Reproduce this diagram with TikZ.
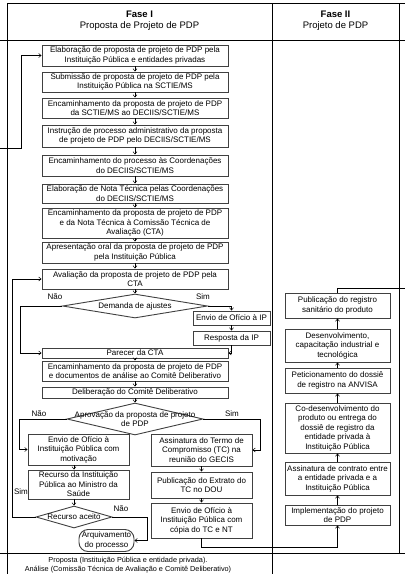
\documentclass[tikz,border=0pt]{standalone}
\usepackage{fontspec}
\setmainfont{Liberation Sans}
\usetikzlibrary{arrows.meta,shapes.geometric}
\begin{document}
\begin{tikzpicture}[x=1pt,y=-1pt,
  box/.style={draw=black!75,line width=0.9pt,fill=white,align=center,inner sep=0pt,font=\fontsize{8}{9.5}\selectfont},
  dia/.style={draw=black!75,line width=0.9pt,diamond,inner sep=0pt},
  lbl/.style={font=\fontsize{8}{9.5}\selectfont,inner sep=0pt,align=center},
  hdr/.style={font=\fontsize{9.5}{10.5}\selectfont,inner sep=0pt,align=center},
  foot/.style={font=\fontsize{7.3}{9}\selectfont,inner sep=0pt,align=center},
  conn/.style={line width=0.5pt,black},
  arr/.style={conn,-{Straight Barb[length=2.5pt,width=4pt]}},
  tab/.style={line width=0.7pt,black}]
\useasboundingbox (0,0) rectangle (405,574);
% table grid
\draw[tab] (7,3) -- (405,3);
\draw[tab] (0,40) -- (405,40);
\draw[tab] (0,553) -- (405,553);
\draw[tab] (7,3) -- (7,574);
\draw[tab] (272,3) -- (272,574);
\draw[tab] (399,3) -- (399,553);
% headers and footer
\node[hdr] (h1) at (139.5,20.5) {\textbf{Fase I}\\Proposta de Projeto de PDP};
\node[hdr] (h2) at (335.5,20.5) {\textbf{Fase II}\\Projeto de PDP};
\node[foot] (ft) at (128,565.5) {Proposta (Instituição Pública e entidade privada).\\Análise (Comissão Técnica de Avaliação e Comitê Deliberativo)};
% phase I main column
\node[box,minimum width=186pt,minimum height=21pt] (b1) at (135,55.5) {Elaboração de proposta de projeto de PDP pela\\Instituição Pública e entidades privadas};
\node[box,minimum width=186pt,minimum height=20pt] (b2) at (135,82) {Submissão de proposta de projeto de PDP pela\\Instituição Pública na SCTIE/MS};
\node[box,minimum width=186pt,minimum height=20pt] (b3) at (135,108) {Encaminhamento da proposta de projeto de PDP\\da SCTIE/MS ao DECIIS/SCTIE/MS};
\node[box,minimum width=186pt,minimum height=22pt] (b4) at (135,136) {Instrução de processo administrativo da proposta\\de projeto de PDP pelo DECIIS/SCTIE/MS};
\node[box,minimum width=186pt,minimum height=21pt] (b5) at (135,165.5) {Encaminhamento do processo às Coordenações\\do DECIIS/SCTIE/MS};
\node[box,minimum width=186pt,minimum height=19pt] (b6) at (135,193.5) {Elaboração de Nota Técnica pelas Coordenações\\do DECIIS/SCTIE/MS};
\node[box,minimum width=186pt,minimum height=30pt] (b7) at (135,223) {Encaminhamento da proposta de projeto de PDP\\e da Nota Técnica à Comissão Técnica de\\Avaliação (CTA)};
\node[box,minimum width=186pt,minimum height=21pt] (b8) at (135,252.5) {Apresentação oral da proposta de projeto de PDP\\pela Instituição Pública};
\node[box,minimum width=186pt,minimum height=20pt] (b9) at (135,279) {Avaliação da proposta de projeto de PDP pela\\CTA};
\node[dia,minimum width=145pt,minimum height=24pt] (d1) at (135,306) {};
\node[lbl] (d1t) at (d1.center) {Demanda de ajustes};
\node[box,minimum width=77pt,minimum height=14pt] (envip) at (231.5,318) {Envio de Ofício à IP};
\node[box,minimum width=77pt,minimum height=14pt] (resp) at (231.5,338) {Resposta da IP};
\node[box,minimum width=186pt,minimum height=10pt] (par) at (135,353) {Parecer da CTA};
\node[box,minimum width=186pt,minimum height=20pt] (b10) at (135,371) {Encaminhamento da proposta de projeto de PDP\\e documentos de análise ao Comitê Deliberativo};
\node[box,minimum width=186pt,minimum height=11pt] (b11) at (135,392.5) {Deliberação do Comitê Deliberativo};
\node[dia,minimum width=136pt,minimum height=32pt] (d2) at (135,419) {};
\node[lbl] (d2t) at (d2.center) {Aprovação da proposta de projeto\\de PDP};
% left branch
\node[box,minimum width=101pt,minimum height=31pt] (envmot) at (78.5,449.5) {Envio de Ofício à\\Instituição Pública com\\motivação};
\node[box,minimum width=101pt,minimum height=29pt] (rec) at (78.5,484.5) {Recurso da Instituição\\Pública ao Ministro da\\Saúde};
\node[dia,minimum width=76pt,minimum height=22pt] (d3) at (74,517) {};
\node[lbl] (d3t) at (d3.center) {Recurso aceito};
\node[box,rounded corners=9pt,minimum width=55pt,minimum height=22pt] (arq) at (106.5,540.5) {Arquivamento\\do processo};
% right branch
\node[box,minimum width=101pt,minimum height=32pt] (assin) at (201.5,450) {Assinatura do Termo de\\Compromisso (TC) na\\reunião do GECIS};
\node[box,minimum width=101pt,minimum height=26pt] (pub) at (201.5,485) {Publicação do Extrato do\\TC no DOU};
\node[box,minimum width=101pt,minimum height=35pt] (envcop) at (201.5,520.5) {Envio de Ofício à\\Instituição Pública com\\cópia do TC e NT};
% phase II
\node[box,minimum width=105pt,minimum height=25pt] (p1) at (337.5,305.5) {Publicação do registro\\sanitário do produto};
\node[box,minimum width=105pt,minimum height=33pt] (p2) at (337.5,345.5) {Desenvolvimento,\\capacitação industrial e\\tecnológica};
\node[box,minimum width=105pt,minimum height=25pt] (p3) at (337.5,380.5) {Peticionamento do dossiê\\de registro na ANVISA};
\node[box,minimum width=105pt,minimum height=50pt] (p4) at (337.5,428) {Co-desenvolvimento do\\produto ou entrega do\\dossiê de registro da\\entidade privada à\\Instituição Pública};
\node[box,minimum width=105pt,minimum height=33pt] (p5) at (337.5,478.5) {Assinatura de contrato entre\\a entidade privada e a\\Instituição Pública};
\node[box,minimum width=105pt,minimum height=20pt] (p6) at (337.5,515) {Implementação do projeto\\de PDP};
% labels
\node[lbl] (l1) at (55,297) {Não};
\node[lbl] (l2) at (203,297) {Sim};
\node[lbl] (l3) at (39,414) {Não};
\node[lbl] (l4) at (232,414) {Sim};
\node[lbl] (l5) at (21,492) {Sim};
\node[lbl] (l6) at (121,509) {Não};
% connectors
\coordinate (inL) at (0,148);
\draw[arr] (inL) -- ++(21,0) |- (b1.west);
\foreach \a/\b in {b1/b2,b2/b3,b3/b4,b4/b5,b5/b6,b6/b7,b7/b8,b8/b9,par/b10,b10/b11,assin/pub,pub/envcop,p6/p5,p5/p4,p4/p3,p3/p2,p2/p1}
  \draw[arr] (\a) -- (\b);
\draw[arr] (b9.south) -- (d1.north);
\draw[arr] (b11.south) -- (d2.north);
\draw[arr] (d1.west) -- ++(-42,0) |- (par.west);
\draw[arr] (d1.east) -| (envip.north);
\draw[arr] (envip) -- (resp);
\draw[arr] (resp.south) |- (par.east);
\draw[arr] (d2.west) -- ++(-47,0) |- (envmot.west);
\draw[arr] (d2.east) -- ++(57,0) |- (assin.east);
\draw[arr] (envmot.south -| d3.north) -- (rec.north -| d3.north);
\draw[arr] (rec.south -| d3.north) -- (d3.north);
\draw[arr] (d3.west) -- ++(-23,0) |- (b9.west);
\draw[arr] (d3.east) -- ++(35,0) |- (arq.east);
\draw[arr] (envcop.south) -- ++(0,9) -| (p6.south);
\coordinate (outR) at (406,288);
\draw[conn] (p1.north) |- (outR);
\end{tikzpicture}
\end{document}
